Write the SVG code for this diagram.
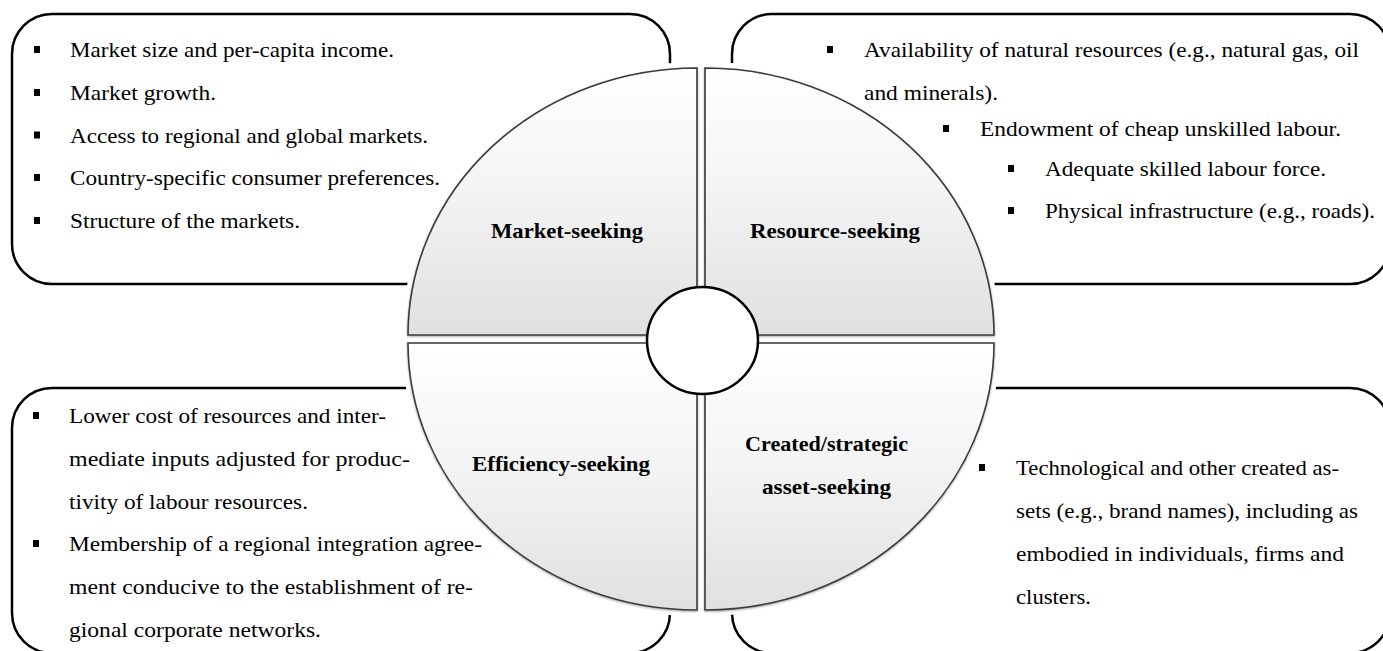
<svg xmlns="http://www.w3.org/2000/svg" width="1383" height="651" viewBox="0 0 1383 651">
  <defs>
    <linearGradient id="quadFill" x1="0" y1="0" x2="0" y2="1">
      <stop offset="0" stop-color="#ffffff"/>
      <stop offset="0.45" stop-color="#f4f4f4"/>
      <stop offset="1" stop-color="#e0e0e0"/>
    </linearGradient>
    <filter id="soft" x="-5%" y="-5%" width="110%" height="110%">
      <feDropShadow dx="0" dy="1" stdDeviation="0.9" flood-color="#000" flood-opacity="0.35"/>
    </filter>
    <rect id="bullet" width="6" height="7" fill="#000"/>
  </defs>
  <style>
    .box { fill: none; stroke: #000; stroke-width: 2.5; }
    .halo { fill: #fff; stroke: #fff; stroke-width: 12; stroke-linejoin: round; }
    .quad { fill: url(#quadFill); stroke: #3a3a3a; stroke-width: 1.6; filter: url(#soft); }
    .hub { fill: #fff; stroke: #000; stroke-width: 2.5; }
    .item { font-family: "Liberation Serif", "Times New Roman", serif; font-size: 21px; fill: #000; }
    .label { font-family: "Liberation Serif", "Times New Roman", serif; font-size: 21px; font-weight: bold; fill: #000; text-anchor: middle; }
  </style>

  <rect width="1383" height="651" fill="#fff"/>

  <!-- Market-seeking factors -->
  <g id="box-market">
    <rect class="box" x="12" y="14" width="658" height="270" rx="40" ry="40"/>
    <use href="#bullet" x="34" y="46"/>
    <use href="#bullet" x="34" y="89"/>
    <use href="#bullet" x="34" y="131.5"/>
    <use href="#bullet" x="34" y="174"/>
    <use href="#bullet" x="34" y="217"/>
    <text class="item" x="70" y="57" textLength="324" lengthAdjust="spacingAndGlyphs">Market size and per-capita income.</text>
    <text class="item" x="70" y="100" textLength="146" lengthAdjust="spacingAndGlyphs">Market growth.</text>
    <text class="item" x="70" y="142.5" textLength="358" lengthAdjust="spacingAndGlyphs">Access to regional and global markets.</text>
    <text class="item" x="70" y="185" textLength="370" lengthAdjust="spacingAndGlyphs">Country-specific consumer preferences.</text>
    <text class="item" x="70" y="228" textLength="230" lengthAdjust="spacingAndGlyphs">Structure of the markets.</text>
  </g>

  <!-- Resource-seeking factors -->
  <g id="box-resource">
    <rect class="box" x="732" y="14" width="658" height="270" rx="40" ry="40"/>
    <use href="#bullet" x="827" y="46"/>
    <use href="#bullet" x="943" y="125"/>
    <use href="#bullet" x="1008" y="165"/>
    <use href="#bullet" x="1008" y="207"/>
    <text class="item" x="864" y="57" textLength="495" lengthAdjust="spacingAndGlyphs">Availability of natural resources (e.g., natural gas, oil</text>
    <text class="item" x="864" y="100" textLength="134" lengthAdjust="spacingAndGlyphs">and minerals).</text>
    <text class="item" x="980" y="136" textLength="361" lengthAdjust="spacingAndGlyphs">Endowment of cheap unskilled labour.</text>
    <text class="item" x="1045" y="176" textLength="281" lengthAdjust="spacingAndGlyphs">Adequate skilled labour force.</text>
    <text class="item" x="1045" y="218" textLength="330" lengthAdjust="spacingAndGlyphs">Physical infrastructure (e.g., roads).</text>
  </g>

  <!-- Efficiency-seeking factors -->
  <g id="box-efficiency">
    <rect class="box" x="12" y="388" width="658" height="265" rx="40" ry="40"/>
    <use href="#bullet" x="33" y="412"/>
    <use href="#bullet" x="33" y="540"/>
    <text class="item" x="69" y="423" textLength="317" lengthAdjust="spacingAndGlyphs">Lower cost of resources and inter-</text>
    <text class="item" x="69" y="466" textLength="341" lengthAdjust="spacingAndGlyphs">mediate inputs adjusted for produc-</text>
    <text class="item" x="69" y="508.5" textLength="239" lengthAdjust="spacingAndGlyphs">tivity of labour resources.</text>
    <text class="item" x="69" y="551" textLength="413" lengthAdjust="spacingAndGlyphs">Membership of a regional integration agree-</text>
    <text class="item" x="69" y="594" textLength="404" lengthAdjust="spacingAndGlyphs">ment conducive to the establishment of re-</text>
    <text class="item" x="69" y="637" textLength="252" lengthAdjust="spacingAndGlyphs">gional corporate networks.</text>
  </g>

  <!-- Created/strategic asset-seeking factors -->
  <g id="box-asset">
    <rect class="box" x="732" y="388" width="658" height="265" rx="40" ry="40"/>
    <use href="#bullet" x="979" y="464"/>
    <text class="item" x="1016" y="475" textLength="323" lengthAdjust="spacingAndGlyphs">Technological and other created as-</text>
    <text class="item" x="1016" y="518" textLength="342" lengthAdjust="spacingAndGlyphs">sets (e.g., brand names), including as</text>
    <text class="item" x="1016" y="561" textLength="328" lengthAdjust="spacingAndGlyphs">embodied in individuals, firms and</text>
    <text class="item" x="1016" y="604" textLength="75" lengthAdjust="spacingAndGlyphs">clusters.</text>
  </g>

  <!-- white clearance around the four quarter shapes -->
  <g id="quad-clearance">
    <path class="halo" d="M697,335 L697,68 A289,267 0 0,0 408,335 Z"/>
    <path class="halo" d="M705,335 L705,68 A289,267 0 0,1 994,335 Z"/>
    <path class="halo" d="M697,343 L408,343 A289,267 0 0,0 697,610 Z"/>
    <path class="halo" d="M705,343 L994,343 A289,267 0 0,1 705,610 Z"/>
  </g>

  <g id="quad-market">
    <path class="quad" d="M697,335 L697,68 A289,267 0 0,0 408,335 Z"/>
    <text class="label" x="567" y="238" textLength="152" lengthAdjust="spacingAndGlyphs">Market-seeking</text>
  </g>
  <g id="quad-resource">
    <path class="quad" d="M705,335 L705,68 A289,267 0 0,1 994,335 Z"/>
    <text class="label" x="835" y="238" textLength="170" lengthAdjust="spacingAndGlyphs">Resource-seeking</text>
  </g>
  <g id="quad-efficiency">
    <path class="quad" d="M697,343 L408,343 A289,267 0 0,0 697,610 Z"/>
    <text class="label" x="561" y="471" textLength="178" lengthAdjust="spacingAndGlyphs">Efficiency-seeking</text>
  </g>
  <g id="quad-asset">
    <path class="quad" d="M705,343 L994,343 A289,267 0 0,1 705,610 Z"/>
    <text class="label" x="826.5" y="451" textLength="163" lengthAdjust="spacingAndGlyphs">Created/strategic</text>
    <text class="label" x="826.5" y="494" textLength="129" lengthAdjust="spacingAndGlyphs">asset-seeking</text>
  </g>

  <g id="hub">
    <ellipse class="hub" cx="702.5" cy="340.5" rx="55.5" ry="53.5"/>
  </g>
</svg>
